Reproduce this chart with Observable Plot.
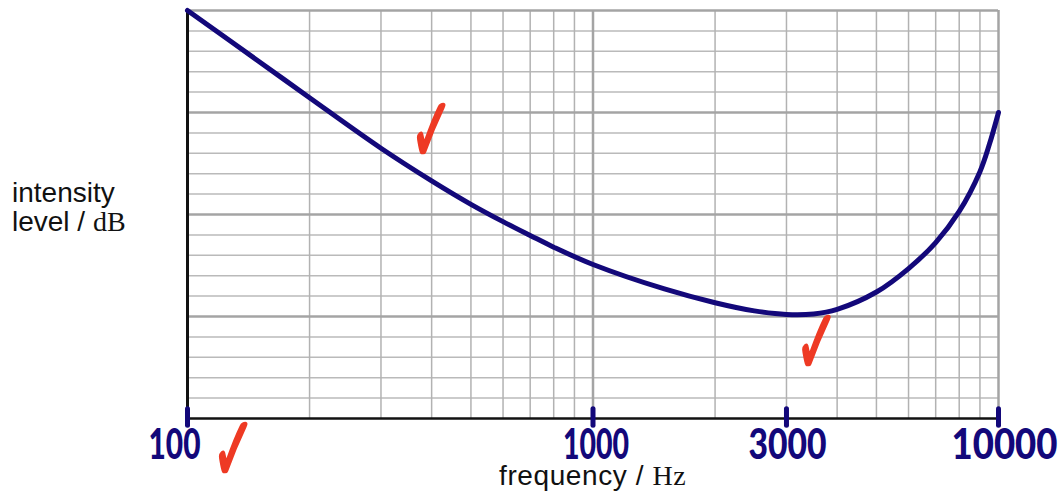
<!DOCTYPE html>
<html>
<head>
<meta charset="utf-8">
<script src="https://cdn.jsdelivr.net/npm/d3@7"></script>
<script src="https://cdn.jsdelivr.net/npm/@observablehq/plot@0.6"></script>
<style>
  body { margin: 0; background: #fff; }
  #chart svg { display: block; }
</style>
</head>
<body>
<div id="chart"></div>
<script>
// Curve: intensity level (arbitrary dB units, 0–80) vs frequency (Hz)
const frequencies = [100, 150, 200, 300, 400, 500, 600, 700, 800, 1000, 1500, 2000, 2500, 3000, 3500, 4000, 5000, 6000, 7000, 8000, 9000, 9500, 10000];
const levels      = [80, 70, 62.9, 53.0, 46.6, 42.0, 38.6, 35.9, 33.6, 30.2, 25.4, 22.7, 21.1, 20.4, 20.5, 21.4, 24.8, 29.4, 34.5, 40.6, 48.4, 53.8, 60];

// Hand-written tick labels
const tickFreqs  = [100, 1000, 3000, 10000];
const tickLabels = ["100", "1000", "3000", "10000"];

// Graph-paper grid
const minorGridFreqs = [200, 300, 400, 500, 600, 700, 800, 900, 2000, 3000, 4000, 5000, 6000, 7000, 8000, 9000];
const majorGridFreqs = [1000, 10000];
const minorGridLevels = [4, 8, 12, 16, 24, 28, 32, 36, 44, 48, 52, 56, 64, 68, 72, 76];
const majorGridLevels = [20, 40, 60, 80];

// Red check marks (annotation positions in data units)
const checkFreqs  = [400, 130, 3570];
const checkLevels = [56, -6.5, 14.5];

const navy = "#13087a";
const red = "#ee3a24";

const curve = frequencies.map((f, i) => ({f, l: levels[i]}));
const checks = checkFreqs.map((f, i) => ({f, l: checkLevels[i]}));
const labelDx = [-13, 3, 1, 6];
const labelWidths = [52, 66, 78, 106];

const plot = Plot.plot({
  width: 1061,
  height: 495,
  marginLeft: 187,
  marginRight: 63,
  marginTop: 10,
  marginBottom: 77,
  x: {type: "log", domain: [100, 10000], axis: null},
  y: {domain: [0, 80], axis: null},
  marks: [
    Plot.ruleY(minorGridLevels, {stroke: "#bababa", strokeWidth: 1.5}),
    Plot.ruleX(minorGridFreqs, {stroke: "#b2b2b2", strokeWidth: 1.5}),
    Plot.ruleY(majorGridLevels, {stroke: "#a4a4a4", strokeWidth: 2.5}),
    Plot.ruleX(majorGridFreqs, {stroke: "#a4a4a4", strokeWidth: 2.5}),
    Plot.ruleX([100], {stroke: "#111", strokeWidth: 3}),
    Plot.ruleY([0], {stroke: "#111", strokeWidth: 2.5}),
    Plot.line(curve, {x: "f", y: "l", stroke: navy, strokeWidth: 5, curve: "catmull-rom", strokeLinecap: "round"}),
    Plot.ruleX(tickFreqs, {y1: -1.4, y2: 1.8, stroke: navy, strokeWidth: 5, strokeLinecap: "round"}),
    ...tickFreqs.map((f, i) => Plot.text([f], {
      x: d => d, y: () => 0, text: () => tickLabels[i],
      dx: labelDx[i], dy: 27, fill: navy, fontSize: 42, fontWeight: 900,
      fontFamily: "Lato, Roboto, sans-serif", textAnchor: "middle", lineAnchor: "middle"
    })),
    Plot.text(checks, {x: "f", y: "l", text: () => "\u2713", fill: red, fontSize: 92,
      fontFamily: "DejaVu Sans", textAnchor: "middle", lineAnchor: "middle"})
  ]
});

document.getElementById("chart").appendChild(plot);

const svg = d3.select(plot);
svg.selectAll("text").each(function () {
  const t = this.textContent;
  const idx = tickLabels.indexOf(t);
  if (idx >= 0) {
    d3.select(this).attr("textLength", labelWidths[idx]).attr("lengthAdjust", "spacingAndGlyphs");
  } else if (t === "\u2713") {
    d3.select(this).attr("textLength", 44).attr("lengthAdjust", "spacingAndGlyphs")
      .attr("stroke", red).attr("stroke-width", 2.5).attr("stroke-linejoin", "round");
  }
});

// Axis titles (sans text with serif unit, as in the original)
const titles = svg.append("g").attr("font-size", 28).attr("fill", "#111").attr("text-anchor", "start");
titles.append("text").attr("x", 12).attr("y", 202)
  .attr("font-family", "'Liberation Sans', Arial, sans-serif").text("intensity");
const lv = titles.append("text").attr("x", 12).attr("y", 231)
  .attr("font-family", "'Liberation Sans', Arial, sans-serif");
lv.append("tspan").text("level / ");
lv.append("tspan").attr("font-family", "'Liberation Serif', 'Times New Roman', serif").text("dB");
const fq = titles.append("text").attr("x", 499).attr("y", 485)
  .attr("font-family", "'Liberation Sans', Arial, sans-serif").attr("letter-spacing", 0.6);
fq.append("tspan").text("frequency / ");
fq.append("tspan").attr("font-family", "'Liberation Serif', 'Times New Roman', serif").text("Hz");
</script>
</body>
</html>
